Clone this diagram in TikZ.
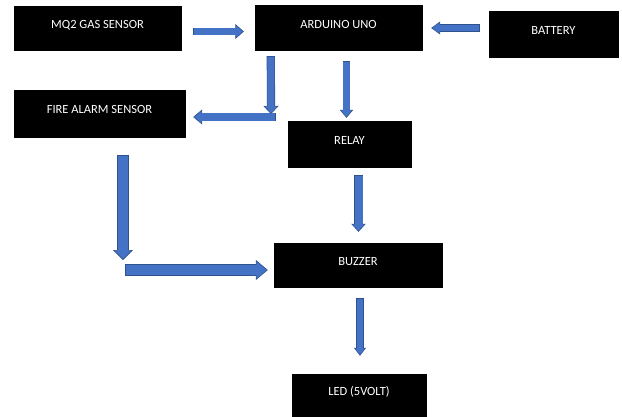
\documentclass[tikz,border=0pt]{standalone}
\usepackage{fontspec}
\setmainfont{Carlito}
\usetikzlibrary{arrows.meta}
\definecolor{arrowblue}{HTML}{4472C4}
\definecolor{arrowedge}{HTML}{2F528F}

\begin{document}
\begin{tikzpicture}[x=1pt, y=-1pt,
    block/.style={draw=black, fill=black, text=white, inner sep=2pt,
      font=\fontsize{12.5}{15}\selectfont, text height=8pt, text depth=8pt},
    barrow/.style n args={3}{line width=#1, draw=arrowblue,
      shorten <=0.6pt, shorten >=#3-1pt,
      preaction={draw=arrowedge, line width=#1+1.2pt, shorten <=0pt, shorten >=0pt,
        -{Triangle[width=#2, length=#3, fill=arrowblue, color=arrowedge, line width=0.6pt]}}}]
    \useasboundingbox (0,0) rectangle (622,416);

    % Blocks
    \node[block, minimum width=167pt, minimum height=44pt] (mq2) at (97.5,28) {MQ2 GAS SENSOR};
    \node[block, minimum width=167pt, minimum height=45pt] (arduino) at (338.5,28) {ARDUINO UNO};
    \node[block, minimum width=129pt, minimum height=46pt] (battery) at (553.5,34) {BATTERY};
    \node[block, minimum width=171pt, minimum height=47pt] (fire) at (99.5,113.5) {FIRE ALARM SENSOR};
    \node[block, minimum width=123pt, minimum height=46pt] (relay) at (349.5,144) {RELAY};
    \node[block, minimum width=168pt, minimum height=44pt] (buzzer) at (358,265) {BUZZER};
    \node[block, minimum width=134pt, minimum height=42pt] (led) at (359,395) {LED (5VOLT)};

    % Bends of the elbow arrows
    \coordinate (bendf) at (271,117);
    \coordinate (bendb) at (123,270);

    % Inputs to the Arduino
    \draw[barrow={6.5pt}{15pt}{8.5pt}] ([xshift=12pt,yshift=-3.5pt]mq2.east) -- ([xshift=-11pt,yshift=-3.5pt]arduino.west);
    \draw[barrow={6pt}{13pt}{9pt}] ([xshift=-9pt,yshift=6pt]battery.west) -- ([xshift=9pt]arduino.east);

    % Arduino to fire alarm sensor and relay
    \draw[barrow={7.4pt}{15pt}{9pt}] ([xshift=5pt]bendf) -- ([xshift=8pt,yshift=-3.5pt]fire.east);
    \draw[barrow={7pt}{15pt}{8pt}] ([xshift=16pt,yshift=-5.5pt]arduino.south west) -- ([yshift=3pt]bendf);
    \draw[barrow={6.7pt}{13.5pt}{8pt}] ([xshift=8pt,yshift=-10.5pt]arduino.south) -- ([xshift=-3pt,yshift=3pt]relay.north);

    % Into the buzzer
    \draw[barrow={8pt}{14.5pt}{8pt}] ([xshift=9pt,yshift=-8pt]relay.south) -- ([xshift=0.5pt,yshift=11pt]buzzer.north);
    \draw[barrow={10pt}{20pt}{10pt}] ([xshift=23.5pt,yshift=-18pt]fire.south) -- ([yshift=10pt]bendb);
    \draw[barrow={10.5pt}{20pt}{12pt}] ([xshift=2pt]bendb) -- ([xshift=-6pt,yshift=-5pt]buzzer.west);

    % Buzzer to LED
    \draw[barrow={6.7pt}{12pt}{8pt}] ([xshift=2pt,yshift=-11pt]buzzer.south) -- ([xshift=1pt,yshift=18pt]led.north);
\end{tikzpicture}
\end{document}
